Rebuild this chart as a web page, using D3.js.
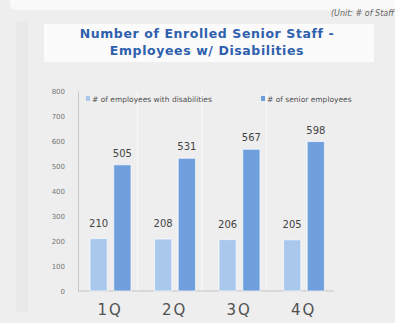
<!DOCTYPE html>
<html>
<head>
<meta charset="utf-8">
<script src="https://cdn.jsdelivr.net/npm/d3@7"></script>
<style>
  html, body { margin: 0; padding: 0; background: #eeeeee; }
  svg { display: block; }
</style>
</head>
<body>
<svg id="chart" width="395" height="323"></svg>
<script>
// Quarterly headcount data
const quarters = ["1Q", "2Q", "3Q", "4Q"];
const seriesNames = ["# of employees with disabilities", "# of senior employees"];
const disabledEmployees = [210, 208, 206, 205];
const seniorEmployees = [505, 531, 567, 598];
const yTicks = [0, 100, 200, 300, 400, 500, 600, 700, 800];

const colors = ["#a9c8ec", "#6f9fdd"];
const svg = d3.select("#chart");

// Background panels
svg.append("rect").attr("x", 0).attr("y", 0).attr("width", 395).attr("height", 323).attr("fill", "#eeeeee");
svg.append("rect").attr("x", 10).attr("y", -6).attr("width", 392).attr("height", 16).attr("rx", 6).attr("fill", "#f9f9f9");
svg.append("rect").attr("x", 16).attr("y", 22).attr("width", 12).attr("height", 290).attr("fill", "#e9e9e9");
svg.append("rect").attr("x", 44).attr("y", 24).attr("width", 330).attr("height", 38).attr("fill", "#fbfbfb");

// Unit note and title
svg.append("text").attr("x", 394).attr("y", 16).attr("text-anchor", "end")
  .attr("font-family", "DejaVu Sans").attr("font-size", 8).attr("font-style", "italic")
  .attr("fill", "#666").text("(Unit: # of Staff");

const title = svg.append("text").attr("text-anchor", "middle")
  .attr("font-family", "DejaVu Sans").attr("font-weight", "bold").attr("font-size", 12.5)
  .attr("letter-spacing", 0.6).attr("fill", "#2f60ad");
title.append("tspan").attr("x", 207).attr("y", 38).text("Number of Enrolled Senior Staff -");
title.append("tspan").attr("x", 207).attr("y", 55).text("Employees w/ Disabilities");

// Scales
const x = d3.scaleBand().domain(quarters).range([78, 336]);
const inner = d3.scaleBand().domain([0, 1]).range([12, 53]).paddingInner(0.27);
const y = d3.scaleLinear().domain([0, 800]).range([291, 91]);

// Faint vertical separators between quarters
svg.append("g").selectAll("line").data(quarters.slice(1)).join("line")
  .attr("x1", d => x(d) - 5).attr("x2", d => x(d) - 5)
  .attr("y1", y(800)).attr("y2", y(0))
  .attr("stroke", "#ffffff").attr("stroke-opacity", 0.55).attr("stroke-width", 1.5);

// Y axis
const yAxis = svg.append("g").attr("transform", "translate(78,0)")
  .call(d3.axisLeft(y).tickValues(yTicks).tickSize(0).tickPadding(13));
yAxis.select(".domain").attr("stroke", "#c8c8c8");
yAxis.selectAll("text").attr("font-family", "DejaVu Sans").attr("font-size", 7).attr("fill", "#777");

// Baseline and category labels
const xAxis = svg.append("g").attr("transform", `translate(0,${y(0)})`)
  .call(d3.axisBottom(x).tickSize(0).tickPadding(13));
xAxis.select(".domain").attr("stroke", "#c4c4c4").attr("d", `M78,0H334`);
xAxis.selectAll("text").attr("font-family", "DejaVu Sans").attr("font-size", 15)
  .attr("letter-spacing", 2).attr("fill", "#505050");

// Bars
const series = [disabledEmployees, seniorEmployees];
series.forEach((vals, si) => {
  const g = svg.append("g");
  g.selectAll("rect").data(quarters).join("rect")
    .attr("x", (q, i) => x(q) + inner(si))
    .attr("y", (q, i) => y(vals[i]))
    .attr("width", inner.bandwidth())
    .attr("height", (q, i) => y(0) - y(vals[i]))
    .attr("fill", colors[si])
    .attr("stroke", "#ffffff").attr("stroke-opacity", 0.6).attr("stroke-width", 1.2);
  g.selectAll("text").data(quarters).join("text")
    .attr("x", (q, i) => x(q) + inner(si) + inner.bandwidth() / 2)
    .attr("y", (q, i) => y(vals[i]) - (si === 0 ? 12 : 8))
    .attr("text-anchor", "middle")
    .attr("font-family", "DejaVu Sans").attr("font-size", 10).attr("fill", "#444")
    .text((q, i) => vals[i]);
});

// Legend
const legendX = [86, 261];
const legend = svg.append("g");
seriesNames.forEach((name, i) => {
  legend.append("rect").attr("x", legendX[i]).attr("y", 96).attr("width", 4).attr("height", 5)
    .attr("fill", colors[i]);
  legend.append("text").attr("x", legendX[i] + 6).attr("y", 101.5)
    .attr("font-family", "DejaVu Sans").attr("font-size", 7.5).attr("fill", "#505050")
    .text(name);
});
</script>
</body>
</html>
